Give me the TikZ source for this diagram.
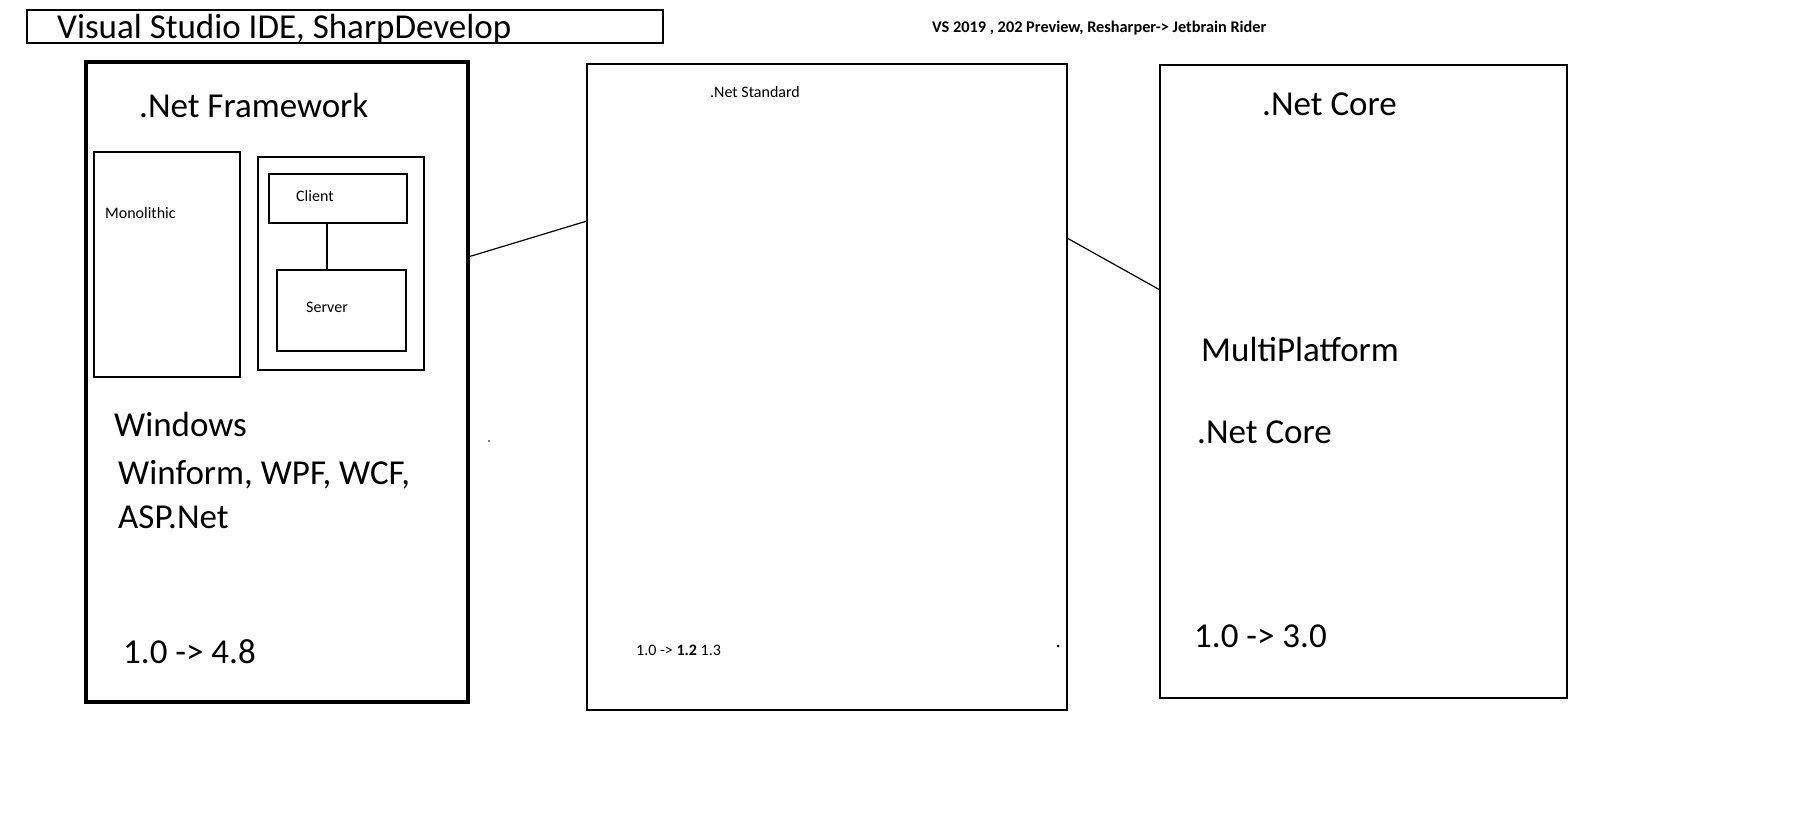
\documentclass[tikz,border=0pt]{standalone}
\usepackage{fontspec}
\setmainfont{Carlito}
\usepackage{tikz}

\tikzset{
    box/.style={draw, line width=1.2pt, anchor=north west, inner sep=0pt, outer sep=0pt},
    bigtxt/.style={anchor=west, inner sep=0pt, font=\fontsize{35}{41}\selectfont},
    smalltxt/.style={anchor=west, inner sep=0pt, font=\fontsize{16}{19}\selectfont},
    link/.style={line width=1.2pt}
}

\begin{document}
\begin{tikzpicture}[x=1pt, y=-1pt]
        \useasboundingbox (0,0) rectangle (1793,834);
        % top line
        \node[box, minimum width=636pt, minimum height=33pt] (ide) at (27,10) {};
        \node[bigtxt] (idetxt) at (57,29) {Visual Studio IDE, SharpDevelop};
        \node[anchor=west, inner sep=0pt, font=\bfseries\fontsize{16.3}{19}\selectfont] (tools) at (932,28) {VS 2019 , 202 Preview, Resharper-> Jetbrain Rider};
        % .Net Framework
        \node[box, line width=4.8pt, minimum width=382pt, minimum height=640pt] (fw) at (86,62) {};
        \node[bigtxt] (fwtitle) at (139,105) {.Net Framework};
        \node[box, minimum width=146pt, minimum height=225pt] (mono) at (94,152) {};
        \node[smalltxt] (monotxt) at (105,213) {Monolithic};
        \node[box, minimum width=166pt, minimum height=213pt] (cs) at (258,157) {};
        \node[box, minimum width=138pt, minimum height=49pt] (client) at (269,174) {};
        \node[smalltxt] (clienttxt) at (296,196) {Client};
        \node[box, minimum width=129pt, minimum height=81pt] (server) at (277,270) {};
        \node[smalltxt] (servertxt) at (306,307) {Server};
        \draw[link] ([xshift=-11pt]client.south) -- ([xshift=-11pt]client.south |- server.north);
        \node[bigtxt] (win) at (114,424) {Windows};
        \node[bigtxt] (winapps) at (118,475) {Winform, WPF, WCF,};
        \node[bigtxt] (asp) at (118,517) {ASP.Net};
        \node[bigtxt] (fwver) at (123,652) {1.0 -> 4.8};
        \fill (489,441) circle (0.8pt);
        % .Net Standard
        \node[box, minimum width=480pt, minimum height=646pt] (std) at (587,64) {};
        \node[smalltxt] (stdtitle) at (710,92) {.Net Standard};
        \node[smalltxt] (stdver) at (636,650) {1.0 -> \textbf{1.2} 1.3};
        \fill (1058,646) circle (1.5pt);
        % .Net Core
        \node[box, minimum width=407pt, minimum height=633pt] (core) at (1160,65) {};
        \node[bigtxt] (coretitle) at (1262,104) {.Net Core};
        \node[bigtxt] (multi) at (1201,349) {MultiPlatform};
        \node[bigtxt] (coretxt) at (1197,432) {.Net Core};
        \node[bigtxt] (corever) at (1194,636) {1.0 -> 3.0};
        % links
        \draw[link] ([yshift=-195pt]fw.north east) -- ([yshift=-157pt]std.north west);
        \draw[link] ([yshift=-174pt]std.north east) -- ([yshift=-225pt]core.north west);
    \end{tikzpicture}
\end{document}
